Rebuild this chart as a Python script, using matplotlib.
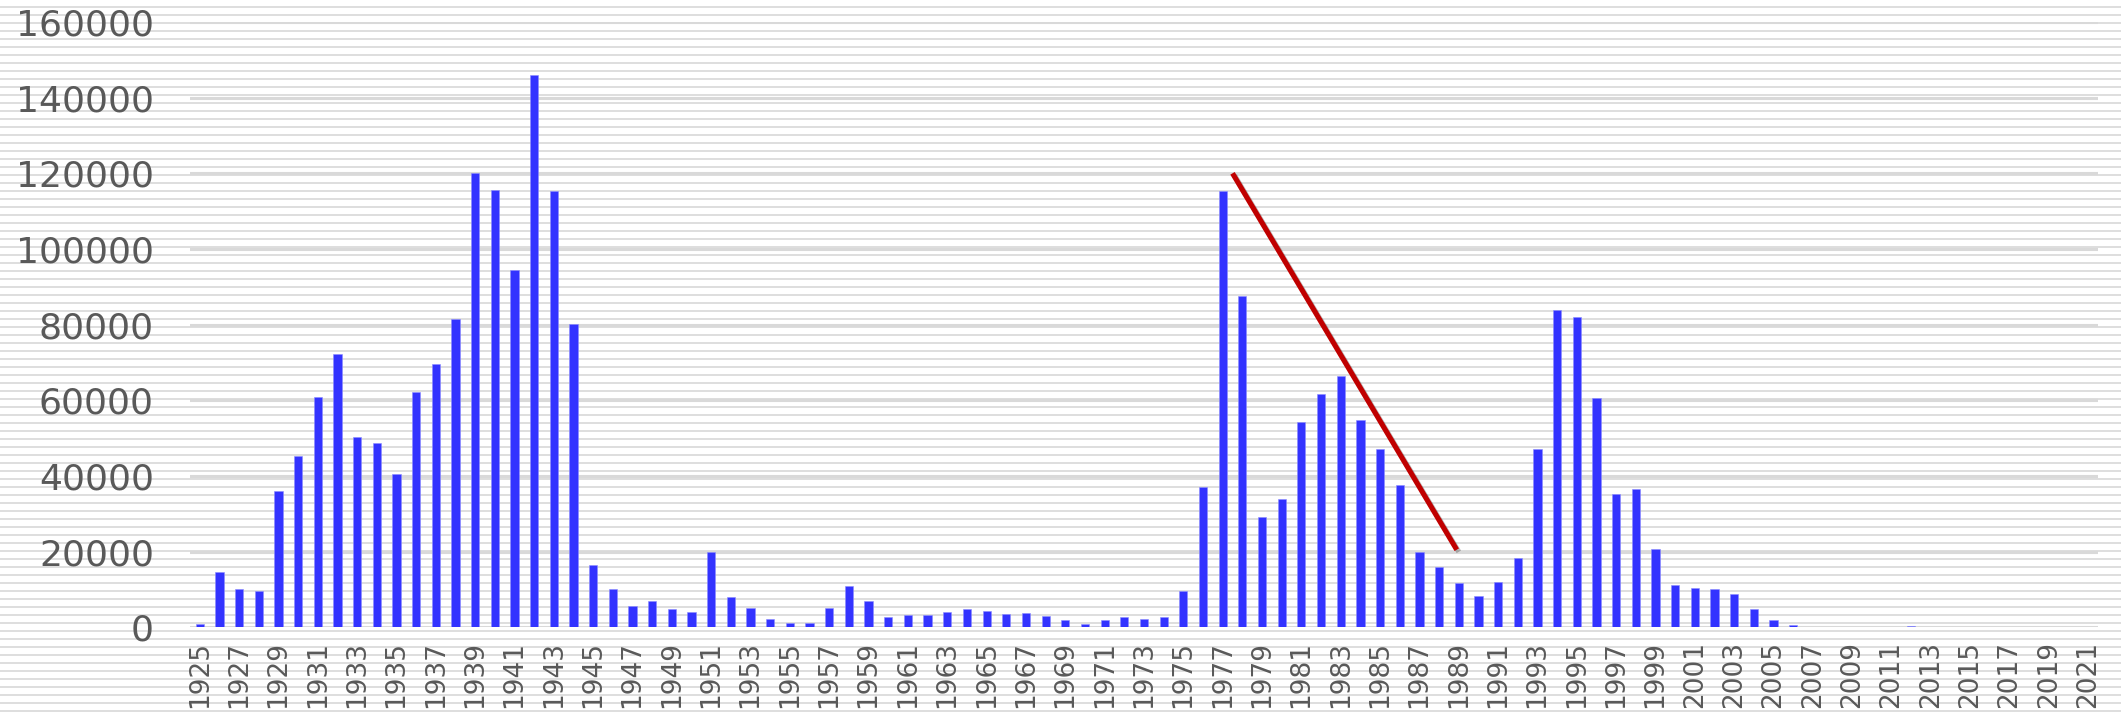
import numpy as np
import matplotlib
matplotlib.use("Agg")
import matplotlib.pyplot as plt
import matplotlib.patheffects as pe

# yearly values
years = list(range(1925, 2022))
values = [
    1000, 14500, 10000, 9600, 36000, 45400, 61000, 72200, 50400, 48600,   # 1925-1934
    40500, 62200, 69700, 81500, 120000, 115500, 94400, 146000, 115400, 80300,  # 1935-1944
    16500, 10100, 5600, 7000, 4800, 4000, 19900, 8100, 5000, 2200,      # 1945-1954
    1150, 1250, 5200, 10900, 7000, 2700, 3200, 3250, 4050, 4800,        # 1955-1964
    4300, 3600, 3750, 3050, 1900, 1000, 1800, 2650, 2200, 2700,         # 1965-1974
    9550, 37100, 115400, 87700, 29100, 33900, 54200, 61800, 66400, 54700,  # 1975-1984
    47100, 37500, 19800, 15900, 11800, 8300, 11900, 18400, 47000, 84000,   # 1985-1994
    81900, 60700, 35200, 36500, 20600, 11100, 10500, 10000, 8900, 4900,   # 1995-2004
    1800, 550, 150, 60, 20, 20, 30, 400, 100, 80,                      # 2005-2014
    50, 40, 40, 50, 120, 30, 60,                                       # 2015-2021
]
tick_years = list(range(1925, 2022, 2))
y_ticks = list(range(0, 160001, 20000))

# hand-drawn trend line
trend_years = [1977.5, 1988.9]
trend_values = [120000, 20500]

W, H = 2121, 716
fig = plt.figure(figsize=(W / 100, H / 100), dpi=100)

# striped background over the whole picture
bg = fig.add_axes([0, 0, 1, 1], zorder=0)
bg.set_xlim(0, W)
bg.set_ylim(H, 0)
bg.axis("off")
bg.hlines(np.arange(6.7, H, 8), 0, W, color="#d9d9d9", lw=1.25)

left, right = 190 / W, 2098 / W
bottom = (H - 627.3) / H
top = (H - 22) / H
ax = fig.add_axes([left, bottom, right - left, top - bottom], zorder=1)
ax.patch.set_alpha(0)

ax.bar(years, values, width=0.42, color="#3333ff", edgecolor="#8c8cff", linewidth=0.4, zorder=3)

ax.plot(trend_years, trend_values, color="#c00000", lw=3.7, solid_capstyle="butt", zorder=4,
        path_effects=[pe.SimpleLineShadow(offset=(1.5, -1.5), shadow_color="#000000", alpha=0.25),
                      pe.Normal()])

ax.set_xlim(1924.5, 2021.5)
ax.set_ylim(0, 160000)
ax.set_yticks(y_ticks)
ax.set_yticklabels([str(v) for v in y_ticks])
ax.set_xticks(tick_years)
ax.set_xticklabels([str(y) for y in tick_years], rotation=90)
ax.grid(axis="y", color="#d9d9d9", lw=2.2, zorder=1)
ax.set_axisbelow(True)
for s in ax.spines.values():
    s.set_visible(False)
ax.tick_params(axis="y", length=0, pad=26, labelsize=26, labelcolor="#595959")
ax.tick_params(axis="x", length=0, pad=10, labelsize=19, labelcolor="#595959")

fig.savefig("out.png", dpi=100)
